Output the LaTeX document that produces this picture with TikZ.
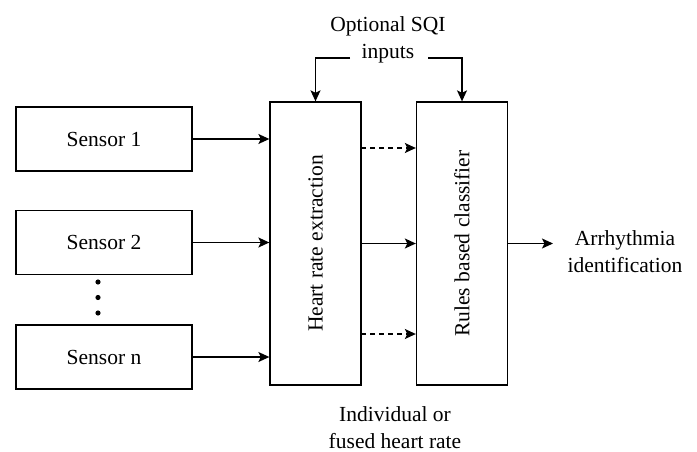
\documentclass[tikz,border=0pt]{standalone}
\usepackage{fontspec}
\setmainfont{Liberation Serif}
\usetikzlibrary{arrows.meta}
\begin{document}
\begin{tikzpicture}[x=1pt,y=-1pt,
  every node/.style={font=\fontsize{21.5}{27}\selectfont, inner sep=0pt},
  box/.style={draw, line width=1.3pt, minimum width=176pt, minimum height=64pt},
  tallbox/.style={draw, line width=1.3pt, minimum width=91pt, minimum height=283pt},
  arr/.style={line width=1.3pt, -{Stealth[length=11pt,width=10pt,inset=2.5pt]}},
  darr/.style={arr, dash pattern=on 5pt off 4pt}]
\useasboundingbox (0,0) rectangle (697,452);
\node[box] (s1) at (104,139) {Sensor 1};
\node[box] (s2) at (104,242.5) {Sensor 2};
\node[box] (sn) at (104,357) {Sensor n};
\node[tallbox] (hr) at (315.5,243.5) {};
\node[rotate=90] (hrt) at (hr.center) {Heart rate extraction};
\node[tallbox] (rb) at (462,243.5) {};
\node[rotate=90] (rbt) at (rb.center) {Rules based classifier};
\fill (98,282) circle (2.6pt) (98,297.5) circle (2.6pt) (98,313) circle (2.6pt);
\draw[arr] (s1.east) -- (s1.east -| hr.west);
\draw[arr] (s2.east) -- (s2.east -| hr.west);
\draw[arr] (sn.east) -- (sn.east -| hr.west);
\coordinate (d1) at (361,148);
\coordinate (d2) at (361,334);
\draw[darr] (d1) -- (d1 -| rb.west);
\draw[arr] (hr.east) -- (rb.west);
\draw[darr] (d2) -- (d2 -| rb.west);
\node[align=center] (sqi) at (388,40) {Optional SQI\\inputs};
\coordinate (sqL) at (350,58);
\coordinate (sqR) at (428,58);
\draw[arr] (sqL) -| (hr.north);
\draw[arr] (sqR) -| (rb.north);
\coordinate (outend) at (553,243.5);
\draw[arr] (rb.east) -- (outend);
\node[align=center] (arrh) at (625,252) {Arrhythmia\\identification};
\node[align=center] (ind) at (395,428) {Individual or\\fused heart rate};
\end{tikzpicture}
\end{document}
